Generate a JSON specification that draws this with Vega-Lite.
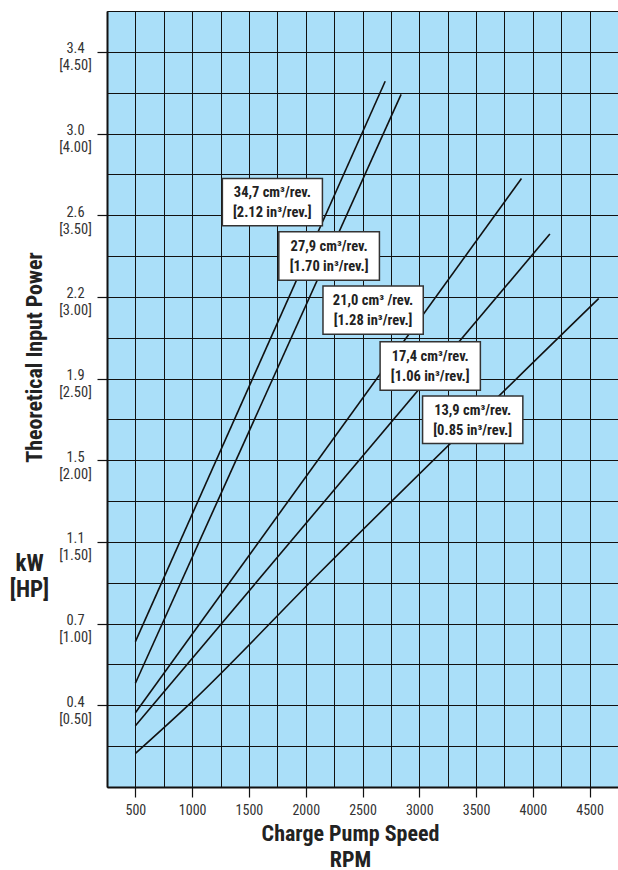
{
  "$schema": "https://vega.github.io/schema/vega-lite/v6.json",
  "width": 511,
  "height": 776,
  "autosize": "none",
  "padding": {"left": 107, "top": 11, "right": 0, "bottom": 83},
  "background": "white",
  "config": {
    "view": {"stroke": null, "fill": "#AADFF9"},
    "font": "Roboto Condensed, Liberation Sans Narrow, DejaVu Sans Condensed, sans-serif"
  },
  "datasets": {
    "curves": [
      {"disp": "34,7", "rpm": 500, "hp": 0.89},
      {"disp": "34,7", "rpm": 2700, "hp": 4.32},
      {"disp": "27,9", "rpm": 500, "hp": 0.635},
      {"disp": "27,9", "rpm": 2840, "hp": 4.24},
      {"disp": "21,0", "rpm": 500, "hp": 0.455},
      {"disp": "21,0", "rpm": 3900, "hp": 3.725},
      {"disp": "17,4", "rpm": 500, "hp": 0.375},
      {"disp": "17,4", "rpm": 4150, "hp": 3.385},
      {"disp": "13,9", "rpm": 500, "hp": 0.205},
      {"disp": "13,9", "rpm": 950, "hp": 0.49},
      {"disp": "13,9", "rpm": 2120, "hp": 1.31},
      {"disp": "13,9", "rpm": 4580, "hp": 2.99}
    ],
    "boxes": [
      {"label": "34,7 cm³/rev.|[2.12 in³/rev.]", "x1": 1266, "x2": 2147, "y1": 3.435, "y2": 3.725, "xc": 1706, "yc": 3.58},
      {"label": "27,9 cm³/rev.|[1.70 in³/rev.]", "x1": 1763, "x2": 2649, "y1": 3.102, "y2": 3.398, "xc": 2206, "yc": 3.25},
      {"label": "21,0 cm³ /rev.|[1.28 in³/rev.]", "x1": 2152, "x2": 3035, "y1": 2.772, "y2": 3.066, "xc": 2593, "yc": 2.919},
      {"label": "17,4 cm³/rev.|[1.06 in³/rev.]", "x1": 2655, "x2": 3538, "y1": 2.429, "y2": 2.725, "xc": 3096, "yc": 2.577},
      {"label": "13,9 cm³/rev.|[0.85 in³/rev.]", "x1": 3029, "x2": 3912, "y1": 2.103, "y2": 2.393, "xc": 3470, "yc": 2.248}
    ]
  },
  "layer": [
    {
      "data": {"name": "curves"},
      "mark": {"type": "line", "color": "#111", "strokeWidth": 1.6, "interpolate": "monotone"},
      "encoding": {
        "x": {
          "field": "rpm", "type": "quantitative",
          "scale": {"domain": [250, 4750], "nice": false, "zero": false},
          "axis": {
            "values": [250, 500, 750, 1000, 1250, 1500, 1750, 2000, 2250, 2500, 2750, 3000, 3250, 3500, 3750, 4000, 4250, 4500],
            "format": "d",
            "labelExpr": "datum.value % 500 === 0 ? datum.label : ''",
            "grid": true, "gridColor": "#111", "gridWidth": 1,
            "domainColor": "#111", "domainWidth": 2,
            "tickSize": 10, "tickColor": "#111", "tickWidth": 1.2,
            "tickOpacity": {"condition": {"test": "datum.value % 500 === 0", "value": 1}, "value": 0},
            "labelFontSize": 14, "labelColor": "#333", "labelPadding": 6,
            "labelFlush": false, "labelOverlap": false,
            "title": ["Charge Pump Speed", "RPM"],
            "titleFontSize": 22, "titleFontWeight": "bold", "titleColor": "#222",
            "titleX": 243, "titleY": 53, "titleBaseline": "alphabetic", "titleAlign": "center",
            "titleLineHeight": 26
          }
        },
        "y": {
          "field": "hp", "type": "quantitative",
          "scale": {"domain": [0, 4.75], "nice": false, "zero": false},
          "axis": {
            "values": [0, 0.25, 0.5, 0.75, 1, 1.25, 1.5, 1.75, 2, 2.25, 2.5, 2.75, 3, 3.25, 3.5, 3.75, 4, 4.25, 4.5, 4.75],
            "labelExpr": "datum.value % 0.5 === 0 && datum.value > 0 ? [format(datum.value * 0.7457, '.1f'), '[' + format(datum.value, '.2f') + ']'] : ''",
            "grid": true, "gridColor": "#111", "gridWidth": 1,
            "domainColor": "#111", "domainWidth": 2,
            "tickSize": 10, "tickColor": "#111", "tickWidth": 1.2,
            "tickOpacity": {"condition": {"test": "datum.value % 0.5 === 0 && datum.value > 0", "value": 1}, "value": 0},
            "labelAlign": "center", "labelBaseline": "middle", "labelPadding": 22, "labelOffset": -3,
            "labelLineHeight": 17, "labelFontSize": 14.5, "labelColor": "#333",
            "labelOverlap": false, "labelFlush": false,
            "title": "Theoretical Input Power",
            "titleFontSize": 22, "titleFontWeight": "bold", "titleColor": "#222",
            "titleX": -66, "titleY": 346, "titleAngle": -90, "titleBaseline": "alphabetic", "titleAlign": "center"
          }
        },
        "detail": {"field": "disp"}
      }
    },
    {
      "data": {"name": "boxes"},
      "mark": {"type": "rect", "fill": "white", "stroke": "#333", "strokeWidth": 1.5},
      "encoding": {
        "x": {"field": "x1", "type": "quantitative", "scale": {"domain": [250, 4750], "nice": false, "zero": false}, "axis": null},
        "x2": {"field": "x2"},
        "y": {
          "field": "y1", "type": "quantitative",
          "scale": {"domain": [0, 4.75], "nice": false, "zero": false},
          "axis": {
            "orient": "left", "title": ["kW", "[HP]"], "titleAngle": 0,
            "titleX": -78, "titleY": 559, "titleAlign": "center", "titleBaseline": "alphabetic",
            "titleFontSize": 23, "titleFontWeight": "bold", "titleLineHeight": 26, "titleColor": "#222",
            "domain": false, "ticks": false, "labels": false, "grid": false
          }
        },
        "y2": {"field": "y2"}
      }
    },
    {
      "data": {"name": "boxes"},
      "mark": {"type": "text", "fontSize": 14.5, "fontWeight": "bold", "color": "#222", "align": "center", "baseline": "middle", "lineBreak": "|", "lineHeight": 20, "dy": -9},
      "encoding": {
        "x": {"field": "xc", "type": "quantitative", "scale": {"domain": [250, 4750], "nice": false, "zero": false}, "axis": null},
        "y": {"field": "yc", "type": "quantitative", "scale": {"domain": [0, 4.75], "nice": false, "zero": false}, "axis": null},
        "text": {"field": "label"}
      }
    }
  ],
  "resolve": {"axis": {"x": "independent", "y": "independent"}}
}
